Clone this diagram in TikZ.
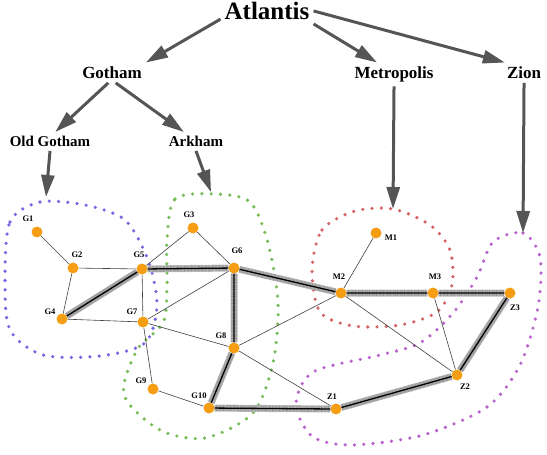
\documentclass[tikz,border=0pt]{standalone}
\usepackage{fontspec}
\setmainfont{Liberation Serif}
\usetikzlibrary{arrows.meta,backgrounds}
\definecolor{cityorange}{RGB}{245,158,20}
\definecolor{treegray}{RGB}{85,85,85}
\definecolor{gothblue}{RGB}{115,105,225}
\definecolor{arkgreen}{RGB}{120,188,90}
\definecolor{metred}{RGB}{212,100,100}
\definecolor{zionpurple}{RGB}{185,100,205}

\begin{document}
\begin{tikzpicture}[scale=0.3515]
\tikzstyle{every node}+=[inner sep=0pt]
\tikzstyle{city}=[circle,fill=cityorange,minimum size=11pt]
\tikzstyle{lbl}=[font=\fontsize{8.5}{10}\selectfont\bfseries]
\tikzstyle{head}=[anchor=base,inner sep=4pt,font=\bfseries]
\tikzstyle{tree}=[draw=treegray,line width=3pt,-{Triangle[length=22pt,width=13pt]}]
\tikzstyle{link}=[draw=black!75,line width=0.6pt]
\tikzstyle{route}=[draw=black,line width=1.3pt,
  preaction={draw=gray!50,line width=7pt},
  preaction={draw=gray!85,line width=6pt,dash pattern=on 0.7pt off 0.7pt}]
\tikzstyle{cluster}=[line width=3.6pt,line cap=round,dash pattern=on 0pt off 9.3pt]
\useasboundingbox (0,0) rectangle (54.7,-45.5);

\node [head,font=\fontsize{25}{30}\selectfont\bfseries] (atlantis) at (26.7,-1.95) {Atlantis};
\node [head,font=\fontsize{17}{20}\selectfont\bfseries] (gotham) at (11.2,-7.85) {Gotham};
\node [head,font=\fontsize{17}{20}\selectfont\bfseries] (metropolis) at (39.4,-7.85) {Metropolis};
\node [head,font=\fontsize{17}{20}\selectfont\bfseries] (zion) at (52.4,-7.85) {Zion};
\node [head,font=\fontsize{15}{18}\selectfont\bfseries] (oldgotham) at (5.0,-14.66) {Old Gotham};
\node [head,font=\fontsize{15}{18}\selectfont\bfseries] (arkham) at (19.6,-14.66) {Arkham};

\coordinate (ogtip) at (4.6,-19.7);
\coordinate (arktip) at (21.1,-19.2);
\coordinate (mettip) at (39.3,-20.9);
\coordinate (ziontip) at (52.3,-23.3);

\draw [tree] (atlantis.190) -- (gotham.north east);
\draw [tree] (atlantis.south east) -- (metropolis.145);
\draw [tree] (atlantis.east) -- (zion.152);
\draw [tree] (gotham.250) -- (oldgotham.61);
\draw [tree] (gotham.290) -- (arkham.142);
\draw [tree] (oldgotham.south) -- (ogtip);
\draw [tree] (arkham.south) -- (arktip);
\draw [tree] (metropolis.south) -- (mettip);
\draw [tree] (zion.south) -- (ziontip);

\node [city] (g1) at (3.7,-23.2) {};
\node [city] (g2) at (7.3,-26.8) {};
\node [city] (g3) at (19.3,-22.8) {};
\node [city] (g4) at (6.2,-31.9) {};
\node [city] (g5) at (14.2,-26.9) {};
\node [city] (g6) at (23.4,-26.8) {};
\node [city] (g7) at (14.3,-32.2) {};
\node [city] (g8) at (23.4,-34.8) {};
\node [city] (g9) at (15.3,-38.9) {};
\node [city] (g10) at (20.9,-40.8) {};
\node [city] (m1) at (37.6,-23.3) {};
\node [city] (m2) at (34.1,-29.3) {};
\node [city] (m3) at (43.3,-29.3) {};
\node [city] (z1) at (33.6,-40.9) {};
\node [city] (z2) at (45.7,-37.5) {};
\node [city] (z3) at (51.0,-29.3) {};

\node [lbl] (g1l) at (2.8,-21.9) {G1};
\node [lbl] (g2l) at (7.7,-25.5) {G2};
\node [lbl] (g3l) at (18.9,-21.5) {G3};
\node [lbl] (g4l) at (5.0,-31.2) {G4};
\node [lbl] (g5l) at (13.9,-25.5) {G5};
\node [lbl] (g6l) at (23.7,-25.1) {G6};
\node [lbl] (g7l) at (13.2,-31.2) {G7};
\node [lbl] (g8l) at (22.1,-33.6) {G8};
\node [lbl] (g9l) at (14.1,-38.1) {G9};
\node [lbl] (g10l) at (19.9,-39.6) {G10};
\node [lbl] (m1l) at (39.1,-23.8) {M1};
\node [lbl] (m2l) at (33.9,-27.7) {M2};
\node [lbl] (m3l) at (43.5,-27.7) {M3};
\node [lbl] (z1l) at (33.2,-39.7) {Z1};
\node [lbl] (z2l) at (46.5,-38.7) {Z2};
\node [lbl] (z3l) at (51.5,-30.8) {Z3};

\begin{scope}[on background layer]
\draw [cluster,gothblue] plot [smooth cycle] coordinates {(0.5,-28) (1.0,-22.2) (4.0,-20.2) (8.5,-20.5) (12.5,-22.0) (14.8,-26.0) (15.7,-30.5) (14.5,-34.3) (10.0,-35.6) (4.3,-35.5) (1.0,-33.0)};
\draw [cluster,arkgreen] plot [smooth cycle] coordinates {(16.7,-24.0) (17.5,-19.9) (21.5,-19.4) (25.0,-20.2) (26.8,-24.3) (27.8,-30.3) (27.3,-36.3) (25.3,-41.3) (20.5,-43.8) (16.0,-43.0) (12.4,-39.5) (13.7,-35.0) (16.3,-32.3) (16.7,-28.7)};
\draw [cluster,metred] plot [smooth cycle] coordinates {(31.2,-27.0) (32.2,-23.0) (35.5,-21.1) (39.3,-20.9) (43.0,-22.5) (45.0,-25.0) (45.2,-28.5) (43.7,-31.2) (40.0,-32.5) (35.3,-32.6) (32.0,-31.2)};
\draw [cluster,zionpurple] plot [smooth cycle] coordinates {(49.3,-24.2) (52.3,-23.3) (54.0,-25.7) (53.8,-30.7) (52.0,-36.5) (48.7,-40.7) (42.3,-43.5) (35.3,-44.5) (31.3,-43.7) (29.6,-40.5) (31.3,-37.2) (38.0,-35.5) (42.0,-34.3) (45.3,-31.3) (47.7,-27.7)};

\draw [link] (g1) -- (g2);
\draw [link] (g2) -- (g5);
\draw [link] (g2) -- (g4);
\draw [link] (g4) -- (g7);
\draw [link] (g5) -- (g7);
\draw [link] (g5) -- (g3);
\draw [link] (g3) -- (g6);
\draw [link] (g7) -- (g6);
\draw [link] (g7) -- (g8);
\draw [link] (g7) -- (g9);
\draw [link] (g9) -- (g10);
\draw [link] (g8) -- (m2);
\draw [link] (g8) -- (z1);
\draw [link] (m2) -- (m1);
\draw [link] (m2) -- (z2);
\draw [link] (m3) -- (z2);

\draw [route] (g4) -- (g5);
\draw [route] (g5) -- (g6);
\draw [route] (g6) -- (m2);
\draw [route] (g6) -- (g8);
\draw [route] (g8) -- (g10);
\draw [route] (g10) -- (z1);
\draw [route] (z1) -- (z2);
\draw [route] (z2) -- (z3);
\draw [route] (m2) -- (m3);
\draw [route] (m3) -- (z3);
\end{scope}
\end{tikzpicture}
\end{document}
